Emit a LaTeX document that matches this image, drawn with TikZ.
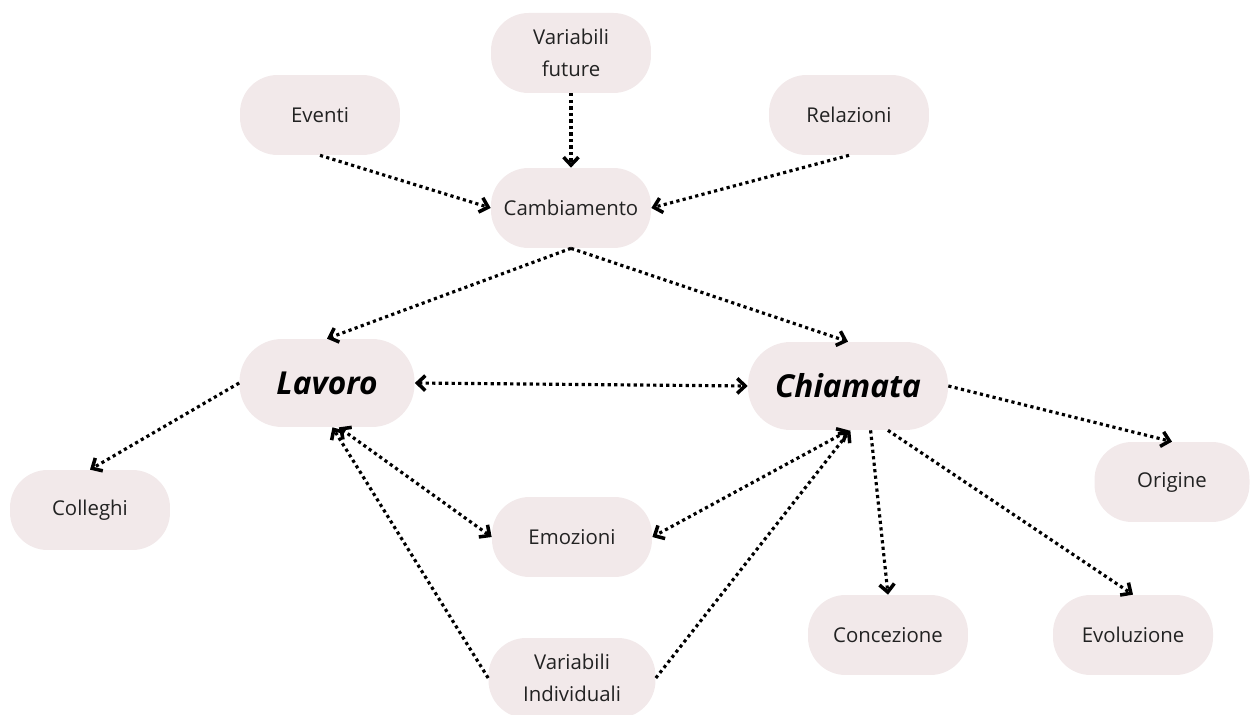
\documentclass[tikz,border=0pt]{standalone}
\usepackage{fontspec}
\setmainfont{Open Sans}
\usetikzlibrary{arrows.meta}
\definecolor{bubblefill}{HTML}{F2E9EA}
\definecolor{inkgray}{HTML}{222222}

\begin{document}
\begin{tikzpicture}[x=0.02cm,y=-0.02cm]
\tikzstyle{bubble}=[fill=bubblefill, rounded corners=0.75cm, minimum width=3.2cm, minimum height=1.6cm, inner sep=0pt, align=center, text=inkgray, font=\fontsize{11.6}{18.5}\selectfont]
\tikzstyle{bigbubble}=[bubble, minimum height=1.76cm, rounded corners=0.85cm, text=black, font=\fontsize{18}{21}\selectfont\bfseries\itshape]
\tikzstyle{link}=[line width=1.8pt, dash pattern=on 1.8pt off 1.9pt, -{Straight Barb[length=4.5pt,width=8.5pt,line width=2pt]}]
\tikzstyle{twolink}=[link, {Straight Barb[length=4.5pt,width=8.5pt,line width=2pt]}-{Straight Barb[length=4.5pt,width=8.5pt,line width=2pt]}]
\useasboundingbox (0,0) rectangle (1250,715);
\node [bubble] (vfuture) at (571,53) {Variabili\\future};
\node [bubble] (eventi) at (320,115) {Eventi};
\node [bubble] (relazioni) at (849,115) {Relazioni};
\node [bubble] (cambio) at (571,208) {Cambiamento};
\node [bigbubble, minimum width=3.5cm] (lavoro) at (327,383) {Lavoro};
\node [bigbubble, minimum width=4cm] (chiamata) at (848,386) {Chiamata};
\node [bubble] (colleghi) at (90,510) {Colleghi};
\node [bubble] (emozioni) at (572,537) {Emozioni};
\node [bubble, minimum width=3.1cm] (origine) at (1172,482) {Origine};
\node [bubble] (concezione) at (888,635) {Concezione};
\node [bubble] (evoluzione) at (1133,635) {Evoluzione};
\node [bubble, minimum width=3.34cm] (vindiv) at (572,678) {Variabili\\Individuali};
\draw [link] (vfuture.south) -- (cambio.north);
\draw [link] (eventi.south) -- (cambio.west);
\draw [link] (relazioni.south) -- (cambio.east);
\draw [link] (cambio.south) -- (lavoro.north);
\draw [link] (cambio.south) -- (chiamata.north);
\draw [twolink] (lavoro.east) -- (chiamata.west);
\draw [link] (lavoro.west) -- (colleghi.north);
\draw [link] (chiamata.east) -- (origine.north);
\draw [link] (chiamata.-63) -- (concezione.north);
\draw [link] (chiamata.-48) -- (evoluzione.north);
\draw [twolink] (lavoro.-75) -- (emozioni.west);
\draw [twolink] (chiamata.-89) -- (emozioni.east);
\draw [link] (vindiv.west) -- (lavoro.-83);
\draw [link] (vindiv.east) -- (chiamata.-87);
\end{tikzpicture}
\end{document}
